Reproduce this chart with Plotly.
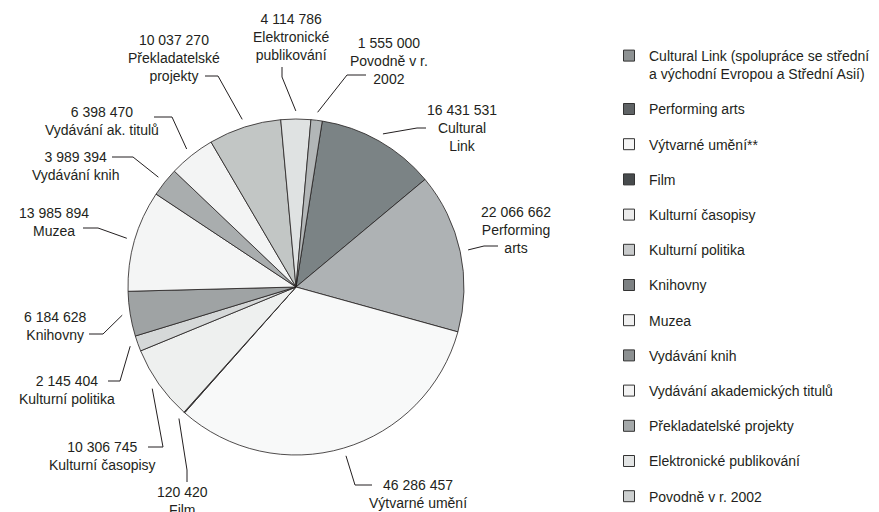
import math
import plotly.graph_objects as go

# ---- data ----
categories = ["Cultural Link", "Performing arts", "Výtvarné umění", "Film",
              "Kulturní časopisy", "Kulturní politika", "Knihovny", "Muzea",
              "Vydávání knih", "Vydávání akademických titulů",
              "Překladatelské projekty", "Elektronické publikování",
              "Povodně v r. 2002"]
values = [16431531, 22066662, 46286457, 120420, 10306745, 2145404, 6184628,
          13985894, 3989394, 6398470, 10037270, 4114786, 1555000]
legend_names = ["Cultural Link (spolupráce se střední<br>a východní Evropou a Střední Asií)",
                "Performing arts", "Výtvarné umění**", "Film", "Kulturní časopisy",
                "Kulturní politika", "Knihovny", "Muzea", "Vydávání knih",
                "Vydávání akademických titulů", "Překladatelské projekty",
                "Elektronické publikování", "Povodně v r. 2002"]
label_texts = ["Cultural<br>Link", "Performing<br>arts", "Výtvarné umění", "Film",
               "Kulturní časopisy", "Kulturní politika", "Knihovny", "Muzea",
               "Vydávání knih", "Vydávání ak. titulů", "Překladatelské<br>projekty",
               "Elektronické<br>publikování", "Povodně v r.<br>2002"]

# ---- styles ----
slice_colors = ["#7b8385", "#aeb2b4", "#f8f9f9", "#5c6264", "#eef0ef", "#d5d8d8",
                "#9fa3a4", "#f4f5f5", "#a9adae", "#f3f4f4", "#c2c6c5", "#dfe2e2",
                "#b2b6b7"]
legend_colors = ["#8e9293", "#5f6365", "#f5f5f5", "#474b4d", "#ececec", "#c8cacb",
                 "#7d8183", "#f0f0f0", "#8c9091", "#f3f3f3", "#a5a9aa", "#e2e4e4",
                 "#cdd0d0"]
INK = "#231f20"
FONT = "Liberation Sans, Arial, sans-serif"
W, H = 879, 512
CX, CY, R = 296, 287, 168
ROT = 9

# label layout (pixel positions): text centre, leader elbow, leader end
label_pos = [(462, 128), (516, 230), (418, 494), (182, 501), (102, 456), (67, 390),
             (55, 326), (54, 222), (75, 166), (102, 121), (174, 58), (291, 37), (389, 61)]
elbows = [(417, 128), (484, 246), (355, 485), (187, 470), (163, 447), (120, 381),
          (103, 334), (98, 228), (133, 157), (172, 117), (218, 76), (282, 77), (347, 75)]
ends = [(426, 128), (498, 246), (372, 485), (187, 482), (148, 447), (108, 381),
        (89, 334), (83, 228), (112, 157), (154, 117), (205, 76), (282, 67), (366, 75)]


def px(x):
    return x / W


def py(y):
    return 1 - y / H


fig = go.Figure()
fig.add_trace(go.Pie(
    labels=categories, values=values, sort=False, direction="clockwise",
    rotation=ROT, textinfo="none", hoverinfo="label+value",
    marker=dict(colors=slice_colors, line=dict(color=INK, width=0.8)),
    domain=dict(x=[px(CX - R), px(CX + R)], y=[py(CY + R), py(CY - R)]),
    showlegend=False,
))

# legend entries
for i, name in enumerate(legend_names):
    fig.add_trace(go.Scatter(
        x=[None], y=[None], mode="markers", name=name, legendgroup=str(i),
        marker=dict(symbol="square", size=11, color=legend_colors[i],
                    line=dict(color="#333333", width=1)),
        showlegend=True,
    ))


def fmt(v):
    return f"{v:,}".replace(",", " ")


total = sum(values)
shapes = []
annotations = []
cum = 0
for i, v in enumerate(values):
    mid = ROT + (cum + v / 2) / total * 360
    cum += v
    a = math.radians(mid)
    ax = CX + 1.048 * R * math.sin(a)
    ay = CY - 1.048 * R * math.cos(a)
    ex, ey = elbows[i]
    nx, ny = ends[i]
    shapes.append(dict(
        type="path", xref="paper", yref="paper",
        path=f"M {px(ax)} {py(ay)} L {px(ex)} {py(ey)} L {px(nx)} {py(ny)}",
        line=dict(color=INK, width=1),
    ))
    tx, ty = label_pos[i]
    annotations.append(dict(
        x=px(tx), y=py(ty), xref="paper", yref="paper",
        text=f"{fmt(v)}<br>{label_texts[i]}", showarrow=False,
        xanchor="center", yanchor="middle", align="center",
        font=dict(family=FONT, size=14, color=INK),
    ))

fig.update_layout(
    width=W, height=H, margin=dict(l=0, r=0, t=0, b=0),
    paper_bgcolor="white", plot_bgcolor="white",
    font=dict(family=FONT, size=14, color=INK),
    xaxis=dict(visible=False), yaxis=dict(visible=False),
    shapes=shapes, annotations=annotations,
    legend=dict(x=px(609), xanchor="left", y=py(51), yanchor="top",
                tracegroupgap=14, valign="top", bgcolor="rgba(0,0,0,0)",
                font=dict(family=FONT, size=14, color=INK)),
)

fig.write_html("out.html", config={"displayModeBar": False},
               post_script="document.body.style.margin='0';document.body.style.overflow='hidden';")
